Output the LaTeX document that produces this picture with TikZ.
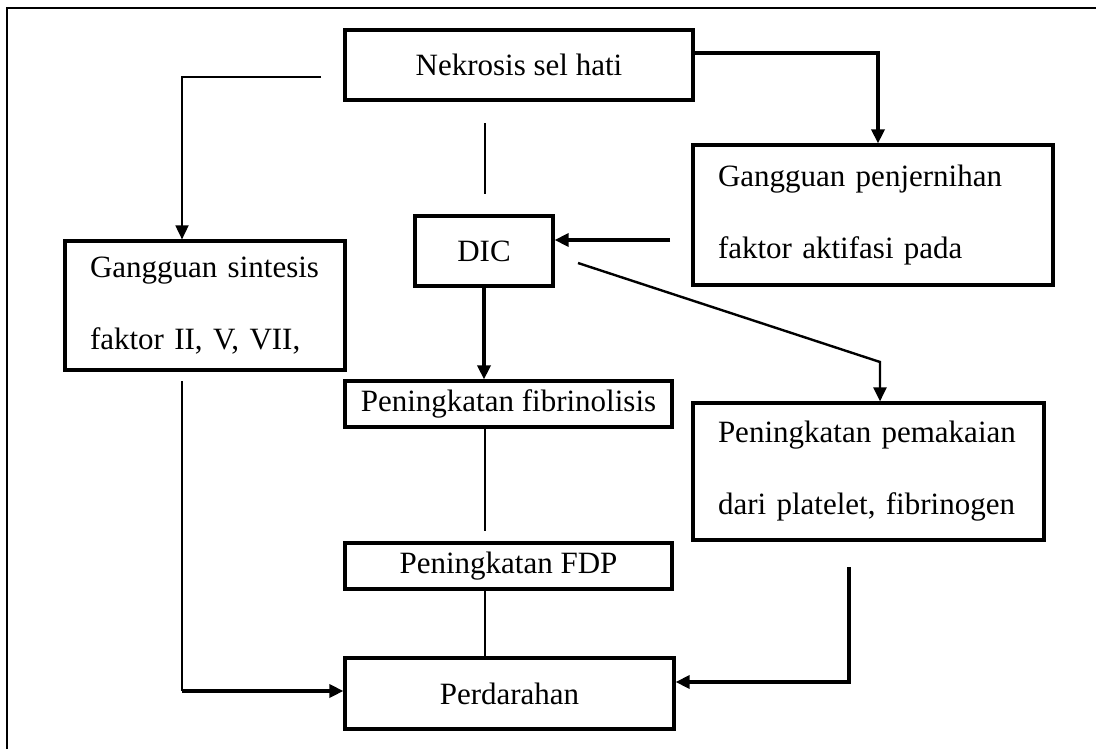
\documentclass[tikz,border=0pt]{standalone}
\usepackage{fontspec}
\setmainfont{Liberation Serif}
\usetikzlibrary{arrows.meta}

\begin{document}
\begin{tikzpicture}[x=0.5pt,y=-0.5pt,
    box/.style={draw,rectangle,line width=1.6pt,inner sep=0pt,
        font=\fontsize{15.5}{36}\selectfont},
    twoline/.style={box,align=left,inner xsep=12.5pt,text width=#1},
    thin line/.style={line width=0.9pt},
    thick line/.style={line width=1.7pt},
    arr/.style={-{Triangle[length=7pt,width=6.5pt]}}]
    \useasboundingbox (0,0) rectangle (1096,749);
    \draw[thin line] (7,749) -- (7,8) -- (1096,8);

    \node[box,minimum width=174pt,minimum height=35pt] (nek) at (519,65) {Nekrosis sel hati};
    \node[twoline=155pt,minimum height=70pt] (pjn) at (873,215) {Gangguan penjernihan\\faktor aktifasi pada};
    \node[box,minimum width=69pt,minimum height=35pt] (dic) at (484,251) {DIC};
    \node[twoline=115pt,minimum height=64.5pt] (sin) at (205,305.5) {Gangguan sintesis\\faktor II, V, VII,};
    \node[box,minimum width=163.5pt,minimum height=23pt] (fib) at (508.5,404) {Peningkatan fibrinolisis};
    \node[twoline=150.5pt,minimum height=68.5pt] (pmk) at (868.5,471.5) {Peningkatan pemakaian\\dari platelet, fibrinogen};
    \node[box,minimum width=163.5pt,minimum height=23pt] (fdp) at (508.5,566) {Peningkatan FDP};
    \node[box,minimum width=164.5pt,minimum height=35.5pt] (dar) at (509.5,693.5) {Perdarahan};

    \coordinate (a1) at (321,77);
    \coordinate (a2) at (182,77);
    \draw[thin line,arr] (a1) -- (a2) -- (a2 |- sin.north);
    \draw[thick line,arr] ([yshift=6pt]nek.east) -| ([xshift=2.5pt]pjn.north);
    \coordinate (c1) at (485,123);
    \coordinate (c2) at (485,194);
    \draw[thin line] (c1) -- (c2);
    \coordinate (d1) at (670,240);
    \draw[thick line,arr] (d1) -- (d1 -| dic.east);
    \coordinate (e1) at (578,263);
    \coordinate (e2) at (880,362);
    \draw[line width=1.2pt,arr] (e1) -- (e2) -- (e2 |- pmk.north);
    \draw[thick line,arr] (dic.south) -- (dic.south |- fib.north);
    \coordinate (g1) at (485,531);
    \draw[thin line] (fib.south -| g1) -- (g1);
    \draw[thin line] (fdp.south -| g1) -- (dar.north -| g1);
    \coordinate (i1) at (182,381);
    \coordinate (i2) at (182,691);
    \draw[thin line] (i1) -- (i2);
    \draw[thick line,arr] (i2) -- (i2 -| dar.west);
    \coordinate (j1) at (849,567);
    \coordinate (j2) at (849,682);
    \draw[thick line,arr] (j1) -- (j2) -- (j2 -| dar.east);
\end{tikzpicture}
\end{document}
